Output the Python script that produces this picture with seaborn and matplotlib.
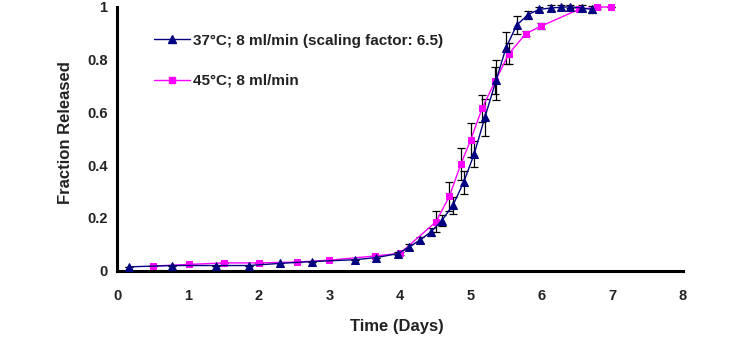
import matplotlib
matplotlib.use("Agg")
import matplotlib.pyplot as plt
import seaborn as sns
import pandas as pd
from matplotlib.lines import Line2D

# ---- data ----
label_37 = "37°C; 8 ml/min (scaling factor: 6.5)"
label_45 = "45°C; 8 ml/min"

days_37 = [0.17, 0.77, 1.40, 1.86, 2.30, 2.75, 3.36, 3.66, 3.97, 4.13, 4.28, 4.44, 4.59,
           4.75, 4.90, 5.05, 5.20, 5.36, 5.50, 5.65, 5.81, 5.97, 6.13, 6.28, 6.41, 6.57, 6.72]
frac_37 = [0.015, 0.02, 0.02, 0.02, 0.028, 0.035, 0.042, 0.05, 0.065, 0.09, 0.116, 0.148, 0.19,
           0.249, 0.335, 0.443, 0.581, 0.722, 0.845, 0.93, 0.97, 0.99, 0.995, 0.998, 1.0, 0.995, 0.99]
err_37 = [0, 0, 0, 0, 0, 0, 0, 0, 0.005, 0.01, 0.012, 0.015, 0.02,
          0.032, 0.044, 0.05, 0.07, 0.075, 0.06, 0.035, 0.015, 0.01, 0.012, 0.01, 0.005, 0.01, 0.014]

days_45 = [0.51, 1.01, 1.51, 2.00, 2.54, 2.99, 3.64, 4.00, 4.51, 4.70, 4.86, 5.00, 5.16,
           5.35, 5.54, 5.78, 6.00, 6.53, 6.79, 6.99]
frac_45 = [0.018, 0.024, 0.03, 0.03, 0.033, 0.04, 0.056, 0.066, 0.186, 0.283, 0.404, 0.495, 0.615,
           0.72, 0.822, 0.898, 0.927, 0.99, 0.998, 1.0]
err_45 = [0, 0, 0, 0, 0, 0, 0, 0.005, 0.04, 0.055, 0.06, 0.065, 0.05,
          0.05, 0.04, 0.01, 0.01, 0.005, 0.005, 0]

xticks = [0, 1, 2, 3, 4, 5, 6, 7, 8]
yticks = [0, 0.2, 0.4, 0.6, 0.8, 1]
ytick_labels = ["0", "0.2", "0.4", "0.6", "0.8", "1"]

BLUE = "#000080"
PINK = "#FF00FF"
TXT = "#222222"

sns.set_style("white")
plt.rcParams["font.family"] = ["Liberation Sans", "DejaVu Sans"]

df37 = pd.DataFrame({"days": days_37, "frac": frac_37})
df45 = pd.DataFrame({"days": days_45, "frac": frac_45})

fig = plt.figure(figsize=(7.47, 3.54), dpi=100)
ax = fig.add_axes([0.157, 0.235, 0.757, 0.746])

# error bars (black, capped)
ax.errorbar(days_37, frac_37, yerr=err_37, fmt="none", ecolor="black",
            elinewidth=0.9, capsize=3, capthick=0.9, zorder=2, clip_on=False)
ax.errorbar(days_45, frac_45, yerr=err_45, fmt="none", ecolor="black",
            elinewidth=0.9, capsize=3, capthick=0.9, zorder=2, clip_on=False)

sns.lineplot(data=df45, x="days", y="frac", ax=ax, color=PINK, marker="s",
             markersize=5, markeredgecolor=PINK, linewidth=1.0, sort=False,
             zorder=3, clip_on=False, legend=False)
sns.lineplot(data=df37, x="days", y="frac", ax=ax, color=BLUE, marker="^",
             markersize=6, markeredgecolor=BLUE, linewidth=1.0, sort=False,
             zorder=4, clip_on=False, legend=False)

ax.set_xlim(0, 8)
ax.set_ylim(0, 1)
ax.set_xticks(xticks)
ax.set_xticklabels([str(t) for t in xticks], fontsize=10.5, fontweight="bold", color=TXT)
ax.set_yticks(yticks)
ax.set_yticklabels(ytick_labels, fontsize=10.5, fontweight="bold", color=TXT)
ax.tick_params(axis="x", direction="out", length=5, width=1.5, pad=8, color="black")
ax.tick_params(axis="y", direction="inout", length=6, width=1.5, pad=4, color="black")

for s in ["top", "right"]:
    ax.spines[s].set_visible(False)
for s in ["left", "bottom"]:
    ax.spines[s].set_color("black")
    ax.spines[s].set_linewidth(2.2)

ax.set_xlabel("Time (Days)", fontsize=12, fontweight="bold", color=TXT)
ax.set_ylabel("Fraction Released", fontsize=12, fontweight="bold", color=TXT)
# label positions (axes fraction)
ax.xaxis.set_label_coords((397 - 117.5) / 565.5, -(326 - 270.7) / 264)
ax.yaxis.set_label_coords(-(117.5 - 66) / 565.5, (270.7 - 132) / 264)
ax.xaxis.label.set_verticalalignment("center")
ax.yaxis.label.set_verticalalignment("center")

handles = [
    Line2D([0], [0], color=BLUE, marker="^", markersize=6, linewidth=1.0),
    Line2D([0], [0], color=PINK, marker="s", markersize=5, linewidth=1.0),
]
leg = ax.legend(handles, [label_37, label_45], loc="upper left",
                bbox_to_anchor=(0.04, 0.95), frameon=False, handlelength=2.35,
                handletextpad=0.2, labelspacing=1.72,
                prop={"family": ["Liberation Sans", "DejaVu Sans"], "weight": "bold", "size": 11})
for t in leg.get_texts():
    t.set_color(TXT)

fig.savefig("out.png", dpi=100, facecolor="white")
